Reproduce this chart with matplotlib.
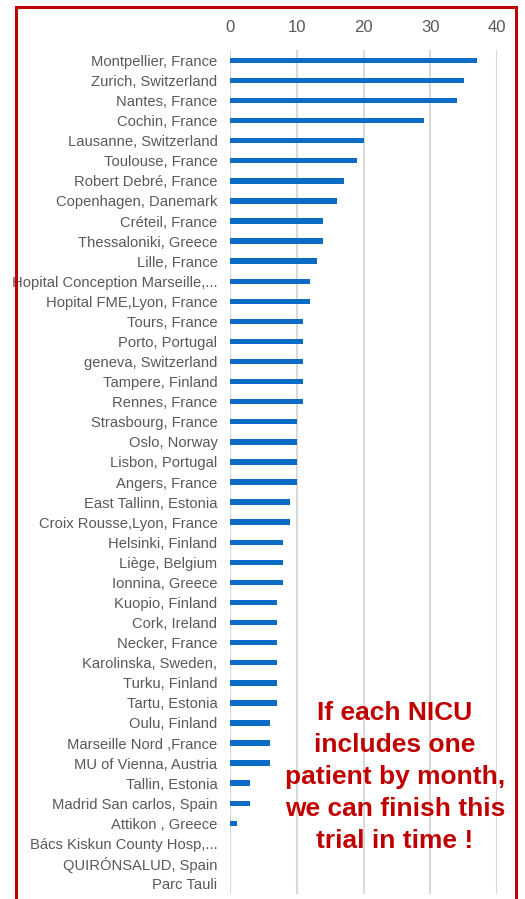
import matplotlib
matplotlib.use("Agg")
import matplotlib.pyplot as plt
from matplotlib.patches import Rectangle

centers = [
    "Montpellier, France", "Zurich, Switzerland", "Nantes, France", "Cochin, France",
    "Lausanne, Switzerland", "Toulouse, France", "Robert Debré, France",
    "Copenhagen, Danemark", "Créteil, France", "Thessaloniki, Greece", "Lille, France",
    "Hopital Conception Marseille,...", "Hopital FME,Lyon, France", "Tours, France",
    "Porto, Portugal", "geneva, Switzerland", "Tampere, Finland", "Rennes, France",
    "Strasbourg, France", "Oslo, Norway", "Lisbon, Portugal", "Angers, France",
    "East Tallinn, Estonia", "Croix Rousse,Lyon, France", "Helsinki, Finland",
    "Liège, Belgium", "Ionnina, Greece", "Kuopio, Finland", "Cork, Ireland",
    "Necker, France", "Karolinska, Sweden,", "Turku, Finland", "Tartu, Estonia",
    "Oulu, Finland", "Marseille Nord ,France", "MU of Vienna, Austria",
    "Tallin, Estonia", "Madrid San carlos, Spain", "Attikon , Greece",
    "Bács Kiskun County Hosp,...", "QUIRÓNSALUD, Spain", "Parc Tauli",
]
values = [37, 35, 34, 29, 20, 19, 17, 16, 14, 14, 13, 12, 12, 11, 11, 11, 11, 11,
          10, 10, 10, 10, 9, 9, 8, 8, 8, 7, 7, 7, 7, 7, 7, 6, 6, 6, 3, 3, 1, 0, 0, 0]
xticks = [0, 10, 20, 30, 40]
note = "If each NICU\nincludes one\npatient by month,\nwe can finish this\ntrial in time !"

plt.rcParams['font.family'] = ['Liberation Sans', 'DejaVu Sans']

fig = plt.figure(figsize=(5.25, 8.99), dpi=100)
ax = fig.add_axes([0.438, 0.006, 0.509, 0.938])

n = len(centers)
ypos = list(range(n))
ax.barh(ypos, values, height=0.27, color="#0A6CC4", zorder=3)
ax.set_ylim(n - 0.5, -0.5)
ax.set_xlim(0, 40)
ax.set_yticks(ypos)
ax.set_yticklabels(centers, fontsize=10.6, color="#595959")
ax.set_xticks(xticks)
ax.set_xticklabels([str(t) for t in xticks], fontsize=12, color="#595959")
ax.xaxis.tick_top()
ax.tick_params(axis="both", length=0)
ax.tick_params(axis="x", pad=11)
ax.tick_params(axis="y", pad=9)
ax.grid(axis="x", color="#D9D9D9", linewidth=1.5, zorder=0)
for s in ax.spines.values():
    s.set_visible(False)

fig.text(395 / 525, 1 - 777 / 899, note, ha="center", va="center",
         fontsize=19, fontweight="bold", color="#C00000", linespacing=1.42)

fig.patches.append(Rectangle((16 / 525, -0.05), (516 - 16) / 525, 1.05 - 7 / 899,
                             transform=fig.transFigure, fill=False,
                             edgecolor="#C00000", linewidth=2.2))

fig.savefig("out.png", dpi=100)
